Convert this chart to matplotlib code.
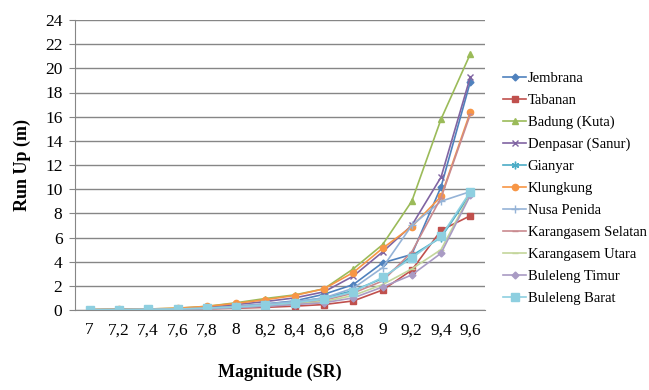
import numpy as np
import matplotlib.pyplot as plt

# magnitude categories (SR)
magnitudes = ["7", "7,2", "7,4", "7,6", "7,8", "8", "8,2", "8,4", "8,6", "8,8", "9", "9,2", "9,4", "9,6"]

# run up (m) per region
jembrana = [0.02, 0.03, 0.05, 0.08, 0.15, 0.3, 0.5, 0.75, 1.3, 2.1, 3.9, 4.6, 10.2, 18.9]
tabanan = [0.01, 0.02, 0.03, 0.05, 0.1, 0.15, 0.22, 0.32, 0.45, 0.75, 1.65, 3.3, 6.6, 7.8]
badung = [0.03, 0.05, 0.08, 0.15, 0.3, 0.6, 0.95, 1.25, 1.75, 3.4, 5.4, 9.0, 15.8, 21.2]
denpasar = [0.02, 0.03, 0.05, 0.1, 0.2, 0.45, 0.7, 1.0, 1.5, 2.8, 4.8, 7.0, 11.0, 19.3]
gianyar = [0.02, 0.03, 0.05, 0.08, 0.15, 0.3, 0.45, 0.65, 1.0, 1.6, 2.6, 4.5, 6.0, 9.6]
klungkung = [0.03, 0.05, 0.08, 0.15, 0.3, 0.55, 0.85, 1.2, 1.75, 3.1, 5.1, 6.9, 9.4, 16.4]
nusa_penida = [0.02, 0.03, 0.05, 0.08, 0.15, 0.3, 0.5, 0.7, 1.0, 1.8, 3.5, 7.0, 9.0, 9.8]
karangasem_selatan = [0.02, 0.03, 0.05, 0.08, 0.12, 0.25, 0.4, 0.55, 0.8, 1.4, 2.4, 4.8, 9.3, 16.2]
karangasem_utara = [0.02, 0.03, 0.05, 0.07, 0.12, 0.22, 0.35, 0.5, 0.7, 1.2, 2.1, 3.4, 5.0, 9.6]
buleleng_timur = [0.01, 0.02, 0.04, 0.06, 0.1, 0.2, 0.3, 0.45, 0.6, 1.0, 1.9, 2.9, 4.7, 9.5]
buleleng_barat = [0.02, 0.03, 0.05, 0.08, 0.15, 0.25, 0.4, 0.6, 0.9, 1.5, 2.7, 4.3, 6.1, 9.8]

series = [
    ("Jembrana", jembrana, "#4F81BD", "D", 3.5),
    ("Tabanan", tabanan, "#C0504D", "s", 4.5),
    ("Badung (Kuta)", badung, "#9BBB59", "^", 4.5),
    ("Denpasar (Sanur)", denpasar, "#8064A2", "x", 4.5),
    ("Gianyar", gianyar, "#4BACC6", (6, 2, 0), 5.5),
    ("Klungkung", klungkung, "#F79646", "o", 4.5),
    ("Nusa Penida", nusa_penida, "#95B3D7", "+", 5.5),
    ("Karangasem Selatan", karangasem_selatan, "#C98A8F", "_", 4.5),
    ("Karangasem Utara", karangasem_utara, "#C3D69B", "_", 4.5),
    ("Buleleng Timur", buleleng_timur, "#A99BC4", "D", 3.5),
    ("Buleleng Barat", buleleng_barat, "#8ECFE0", "s", 5.5),
]

plt.rcParams["font.family"] = ["Liberation Serif", "DejaVu Serif"]

fig = plt.figure(figsize=(6.49, 3.90), dpi=100)
ax = fig.add_axes([75 / 649, 80 / 390, 410 / 649, 290 / 390])

x = np.arange(len(magnitudes))
for name, vals, col, mk, ms in series:
    ax.plot(x, vals, color=col, marker=mk, markersize=ms, linewidth=1.2,
            markeredgecolor=col, markerfacecolor=col, label=name)

ax.set_xlim(-0.5, len(magnitudes) - 0.5)
ax.set_ylim(0, 24)
ax.set_yticks(np.arange(0, 25, 2))
ax.set_xticks(x)
ax.set_xticklabels(magnitudes)
ax.tick_params(axis="x", labelsize=12.5, length=0, pad=9)
ax.tick_params(axis="y", labelsize=12.5, length=4, color="#868686", pad=5)

ax.yaxis.grid(True, color="#868686", linewidth=1)
ax.set_axisbelow(True)
for side in ["top", "right"]:
    ax.spines[side].set_visible(False)
ax.spines["left"].set_color("#868686")
ax.spines["bottom"].set_color("#868686")

ax.set_xlabel("Magnitude (SR)", fontsize=13, fontweight="bold", labelpad=18)
ax.set_ylabel("Run Up (m)", fontsize=13, fontweight="bold", labelpad=10)

fig.legend(loc="upper left", bbox_to_anchor=(497 / 649, 1 - 66 / 390),
           frameon=False, fontsize=10.5, handlelength=1.6, handletextpad=0.1,
           labelspacing=0.6, borderaxespad=0)

fig.savefig("out.png", dpi=100)
